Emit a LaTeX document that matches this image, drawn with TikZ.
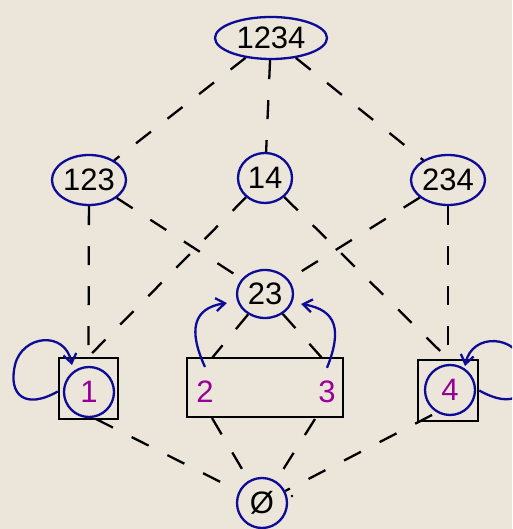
\documentclass[tikz,border=0pt]{standalone}
\usepackage{fontspec}
\setmainfont{Liberation Sans}
\usetikzlibrary{shapes.geometric,arrows.meta,calc}
\definecolor{paper}{RGB}{236,229,218}
\definecolor{ringblue}{RGB}{12,12,150}
\definecolor{elemviolet}{RGB}{150,0,150}
\tikzset{
  bigfont/.style={font=\fontsize{31pt}{31pt}\selectfont},
  blob/.style={ellipse, draw=ringblue, line width=2.3pt, inner sep=0pt, bigfont},
  ring/.style={circle, draw=ringblue, line width=2.3pt, minimum size=50pt, inner sep=0pt, bigfont, text=elemviolet},
  cell/.style={rectangle, draw=black, line width=2.5pt, inner sep=0pt},
  elem/.style={inner sep=0pt, bigfont, text=elemviolet},
  link/.style={draw=black, line width=2.3pt, dash pattern=on 19pt off 21pt},
  flow/.style={draw=ringblue, line width=2.3pt, -{Straight Barb[length=9pt,width=13pt,line width=2.3pt]}},
}
\begin{document}
\begin{tikzpicture}[x=1pt,y=1pt]
  % page and background
  \fill[paper] (0,0) rectangle (512,529);
  \useasboundingbox (0,0) rectangle (512,529);
  \clip (0,0) rectangle (512,529);

  % upper levels
  \node[blob, minimum width=112pt, minimum height=42pt] (n1234) at (271,491) {1234};
  \node[blob, minimum width=74pt, minimum height=50pt] (n123) at (89,349) {123};
  \node[blob, minimum width=54pt, minimum height=50pt] (n14) at (265,351) {14};
  \node[blob, minimum width=74pt, minimum height=50pt] (n234) at (448,349) {234};
  \node[blob, minimum width=56pt, minimum height=48pt] (n23) at (265,235) {23};

  % boxed classes
  \node[cell, minimum width=59pt, minimum height=61pt] (b1) at (88.5,140.5) {};
  \node[cell, minimum width=156pt, minimum height=59pt] (b23) at (265,141.5) {};
  \node[cell, minimum width=60pt, minimum height=61pt] (b4) at (448,138.5) {};
  \node[ring] (c1) at (89,137) {1};
  \node[ring] (c4) at (450,139) {4};
  \node[elem] (t2) at (205,137) {2};
  \node[elem] (t3) at (327,137) {3};

  % bottom element
  \node[ring, text=black] (n0) at (262,26) {Ø};
  \fill (292,33) circle (1.3pt);

  % attachment points on the boxes
  \coordinate (tl) at (212,171);
  \coordinate (tr) at (322,171);
  \coordinate (bl) at (212,111);
  \coordinate (br) at (315,110);
  \coordinate (o1) at (96,110);
  \coordinate (o4) at (432,114);

  % order relation
  \draw[link] (n1234) -- (n123);
  \draw[link] (n1234) -- (n14);
  \draw[link] (n1234) -- (n234);
  \draw[link] (n123) -- (b1.north);
  \draw[link] (n123) -- (n23);
  \draw[link] (n14) -- (b1.north);
  \draw[link] (n14) -- (b4.north);
  \draw[link] (n234) -- (n23);
  \draw[link] (n234) -- (b4.north);
  \draw[link] (n23) -- (tl);
  \draw[link] (n23) -- (tr);
  \draw[link] (bl) -- (n0);
  \draw[link] (br) -- (n0);
  \draw[link] (o1) -- (n0);
  \draw[link] (o4) -- (n0);

  % maps
  \draw[flow] ([yshift=14pt]t2.north) .. controls (188,199) and (193,221) .. ($(n23.west)+(-9,-9)$);
  \draw[flow] ([yshift=13pt]t3.north) .. controls (342,199) and (337,219) .. ($(n23.east)+(7,-10)$);
  \draw[flow] ([yshift=-3pt]b1.west) .. controls (25,119) and (8,134) .. (15,164)
                 .. controls (22,194) and (65,199) .. ($(c1.center)+(-17,27)$);
  \draw[flow] (b4.east) .. controls (514,119) and (531,134) .. (524,164)
                 .. controls (517,194) and (472,197) .. ($(c4.center)+(15,24)$);
\end{tikzpicture}
\end{document}
